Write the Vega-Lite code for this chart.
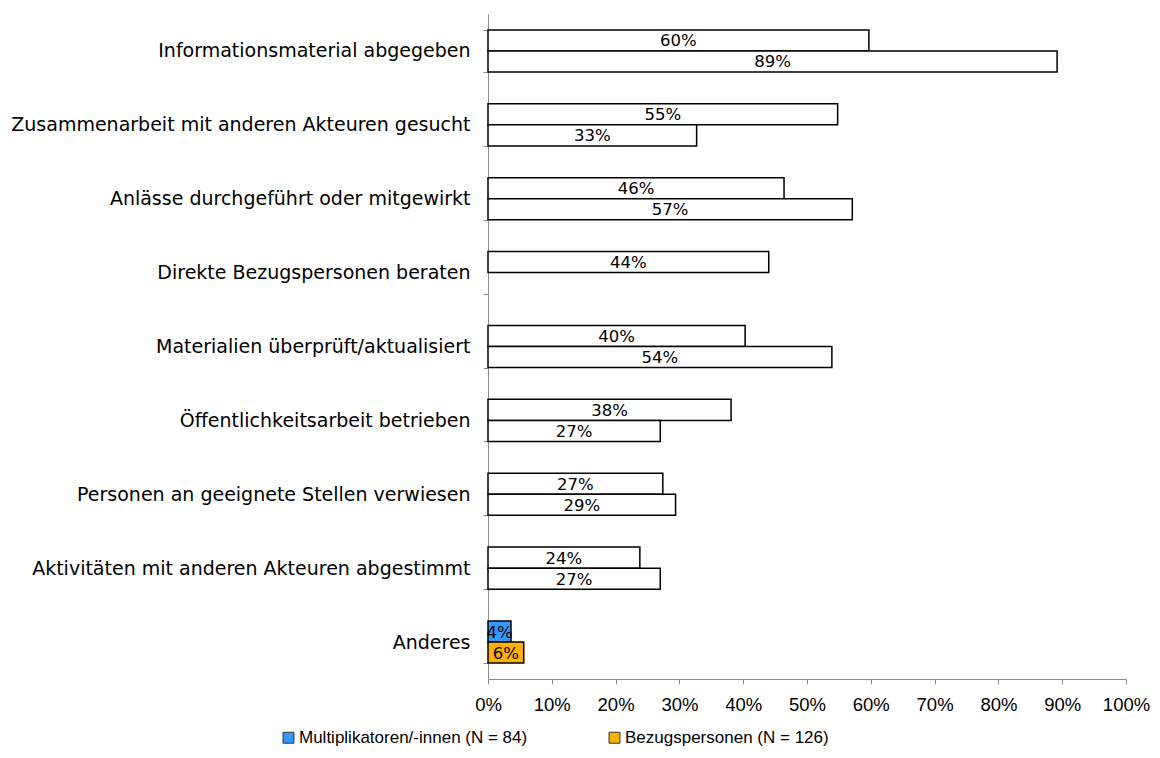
{
  "$schema": "https://vega.github.io/schema/vega-lite/v6.json",
  "autosize": {"type": "none"},
  "width": 638,
  "height": 665,
  "padding": {"left": 488, "top": 14, "right": 34, "bottom": 79},
  "background": "white",
  "config": {
    "font": "Liberation Sans",
    "view": {"stroke": null},
    "axis": {"labelFont": "Liberation Sans", "labelColor": "black"}
  },
  "data": {
    "values": [
      {"cat": "Informationsmaterial abgegeben\u2007", "series": "Multiplikatoren/-innen (N = 84)", "value": 0.597},
      {"cat": "Informationsmaterial abgegeben\u2007", "series": "Bezugspersonen (N = 126)", "value": 0.892},
      {"cat": "Zusammenarbeit mit anderen Akteuren gesucht", "series": "Multiplikatoren/-innen (N = 84)", "value": 0.548},
      {"cat": "Zusammenarbeit mit anderen Akteuren gesucht", "series": "Bezugspersonen (N = 126)", "value": 0.327},
      {"cat": "Anlässe durchgeführt oder mitgewirkt", "series": "Multiplikatoren/-innen (N = 84)", "value": 0.464},
      {"cat": "Anlässe durchgeführt oder mitgewirkt", "series": "Bezugspersonen (N = 126)", "value": 0.571},
      {"cat": "Direkte Bezugspersonen beraten\u2007", "series": "Multiplikatoren/-innen (N = 84)", "value": 0.44},
      {"cat": "Materialien überprüft/aktualisiert", "series": "Multiplikatoren/-innen (N = 84)", "value": 0.403},
      {"cat": "Materialien überprüft/aktualisiert", "series": "Bezugspersonen (N = 126)", "value": 0.539},
      {"cat": "Öffentlichkeitsarbeit betrieben", "series": "Multiplikatoren/-innen (N = 84)", "value": 0.381},
      {"cat": "Öffentlichkeitsarbeit betrieben", "series": "Bezugspersonen (N = 126)", "value": 0.27},
      {"cat": "Personen an geeignete Stellen verwiesen", "series": "Multiplikatoren/-innen (N = 84)", "value": 0.274},
      {"cat": "Personen an geeignete Stellen verwiesen", "series": "Bezugspersonen (N = 126)", "value": 0.294},
      {"cat": "Aktivitäten mit anderen Akteuren abgestimmt\u2007", "series": "Multiplikatoren/-innen (N = 84)", "value": 0.238},
      {"cat": "Aktivitäten mit anderen Akteuren abgestimmt\u2007", "series": "Bezugspersonen (N = 126)", "value": 0.27},
      {"cat": "Anderes", "series": "Multiplikatoren/-innen (N = 84)", "value": 0.036},
      {"cat": "Anderes", "series": "Bezugspersonen (N = 126)", "value": 0.056}
    ]
  },
  "encoding": {
    "y": {
      "field": "cat", "type": "nominal", "sort": null,
      "scale": {"paddingInner": 0.43, "paddingOuter": 0.215},
      "axis": {
        "title": null, "tickBand": "extent", "labelFont": "DejaVu Sans", "labelFontSize": 19, "labelPadding": 13,
        "tickSize": 5, "tickColor": "#8c8c8c", "domainColor": "#8c8c8c", "labelLimit": 488
      }
    },
    "yOffset": {
      "field": "series", "type": "nominal",
      "scale": {"domain": ["Multiplikatoren/-innen (N = 84)", "Bezugspersonen (N = 126)"], "paddingInner": 0, "paddingOuter": 0}
    }
  },
  "layer": [
    {
      "mark": {"type": "bar", "stroke": "black", "strokeWidth": 1.5},
      "encoding": {
        "x": {
          "field": "value", "type": "quantitative",
          "scale": {"domain": [0, 1], "nice": false},
          "axis": {
            "title": null, "format": ".0%", "values": [0,0.1,0.2,0.3,0.4,0.5,0.6,0.7,0.8,0.9,1],
            "grid": false, "labelFontSize": 18.5, "labelPadding": 11, "tickSize": 5, "labelOverlap": false,
            "tickColor": "#8c8c8c", "domainColor": "#8c8c8c", "labelFlush": false
          }
        },
        "fill": {
          "condition": {
            "test": "datum.cat === 'Anderes'",
            "field": "series", "type": "nominal",
            "scale": {"domain": ["Multiplikatoren/-innen (N = 84)", "Bezugspersonen (N = 126)"], "range": ["#3399ff", "#ffb000"]},
            "legend": {
              "title": null, "orient": "none", "direction": "horizontal",
              "legendX": -208, "legendY": 715,
              "symbolType": "square", "symbolSize": 120, "symbolStrokeColor": "#333333", "symbolStrokeWidth": 1,
              "labelFontSize": 17, "labelFont": "Liberation Sans", "labelColor": "black", "labelOffset": 2,
              "columnPadding": 78, "labelLimit": 400
            }
          },
          "value": "white"
        }
      }
    },
    {
      "transform": [{"calculate": "datum.value / 2", "as": "mid"}],
      "mark": {"type": "text", "font": "DejaVu Sans", "fontSize": 16.5, "color": "black", "baseline": "middle", "align": "center", "dy": 1},
      "encoding": {
        "x": {"field": "mid", "type": "quantitative"},
        "text": {"field": "value", "type": "quantitative", "format": ".0%"}
      }
    }
  ]
}
